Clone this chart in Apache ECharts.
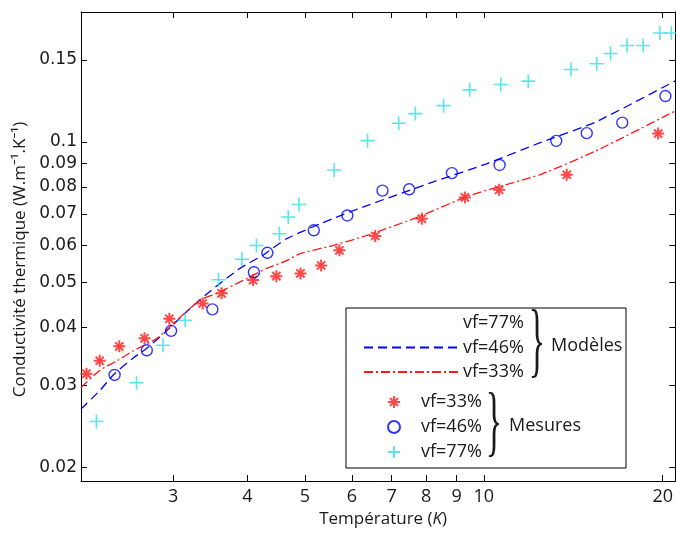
<!DOCTYPE html>
<html>
<head>
<meta charset="utf-8">
<script src="https://cdn.jsdelivr.net/npm/echarts@6/dist/echarts.min.js"></script>
<style>
html,body{margin:0;padding:0;background:#fff;}
#chart{width:676px;height:533px;}
</style>
</head>
<body>
<div id="chart"></div>
<script>
// Tick values
const tempTicks = [3, 4, 5, 6, 7, 8, 9, 10, 20];
const condTicks = [0.02, 0.03, 0.04, 0.05, 0.06, 0.07, 0.08, 0.09, 0.1, 0.15];

// Models [T (K), k (W/m/K)]
const model77 = [];
const model46 = [[2.1,0.0267],[2.264,0.02935],[2.379,0.0316],[2.571,0.03436],[2.713,0.03609],[2.910,0.03903],[3.167,0.04328],[3.460,0.04775],[3.885,0.05347],[4.262,0.05726],[4.658,0.06197],[5.563,0.0684],[6.342,0.0729],[8.309,0.08243],[10.08,0.08962],[12.51,0.0999],[15.40,0.1102],[21,0.1352]];
const model33 = [[2.1,0.0297],[2.264,0.0324],[2.417,0.0339],[2.571,0.0356],[2.820,0.0379],[3.094,0.0422],[3.329,0.0457],[3.554,0.0473],[3.991,0.0509],[4.311,0.0535],[4.658,0.0556],[4.896,0.0575],[5.563,0.0599],[6.342,0.0629],[7.780,0.0691],[9.436,0.0766],[12.51,0.0853],[15.40,0.0955],[21,0.1165]];

// Measurements
const mes33 = [[2.145,0.0318],[2.258,0.0339],[2.436,0.0364],[2.686,0.0379],[2.957,0.0417],[3.364,0.0450],[3.620,0.0473],[4.090,0.0505],[4.476,0.0515],[4.915,0.0522],[5.325,0.0543],[5.715,0.0585],[6.566,0.0628],[7.864,0.0684],[9.293,0.0760],[10.61,0.0789],[13.79,0.0850],[19.65,0.1042]];
const mes46 = [[2.392,0.0316],[2.710,0.0357],[2.977,0.0393],[3.494,0.0437],[4.104,0.0525],[4.323,0.0578],[5.175,0.0646],[5.893,0.0695],[6.753,0.0786],[7.488,0.0791],[8.837,0.0857],[10.63,0.0892],[13.24,0.1005],[14.90,0.1044],[17.10,0.1100],[20.21,0.1254]];
const mes77 = [[2.229,0.0251],[2.604,0.0304],[2.886,0.0366],[3.143,0.0414],[3.578,0.0506],[3.918,0.0560],[4.144,0.0599],[4.528,0.0635],[4.688,0.0690],[4.887,0.0734],[5.600,0.0870],[6.374,0.1006],[7.191,0.1096],[7.670,0.1150],[8.559,0.1196],[9.467,0.1293],[10.68,0.1328],[11.88,0.1350],[14.02,0.1430],[15.49,0.1471],[16.34,0.1548],[17.42,0.1610],[18.54,0.1610],[19.78,0.1713],[20.68,0.1713]];

const RED = '#ff1a1a', BLUE = '#0000ff', CYAN = '#2ee0e0';
const TXT = '#1a1a1a';
const SANS = '"Open Sans", "Noto Sans", sans-serif';

const asterisk = 'path://M5,0L5,10M0,5L10,5M1.6,1.6L8.4,8.4M8.4,1.6L1.6,8.4';
const plus = 'path://M5,0L5,10M0,5L10,5';

const fmt = v => String(+(+v).toPrecision(6));

const chart = echarts.init(document.getElementById('chart'), null, {renderer: 'canvas'});

const baseX = {
  type: 'log', min: 2.1, max: 21, logBase: 10,
  axisLine: {show: true, onZero: false, lineStyle: {color: '#000', width: 1}},
  splitLine: {show: false}, minorTick: {show: false},
  axisTick: {show: true, inside: true, length: 6, lineStyle: {color: '#000'}, customValues: tempTicks},
};
const baseY = {
  type: 'log', min: 0.0187, max: 0.19, logBase: 10,
  axisLine: {show: true, onZero: false, lineStyle: {color: '#000', width: 1}},
  splitLine: {show: false}, minorTick: {show: false},
  axisTick: {show: true, inside: true, length: 6, lineStyle: {color: '#000'}, customValues: condTicks},
};

const option = {
  animation: false,
  backgroundColor: '#fff',
  grid: {left: 81, top: 12, width: 596, height: 472, containLabel: false},
  xAxis: [
    Object.assign({}, baseX, {
      position: 'bottom',
      name: 'Température ({i|K})', nameLocation: 'middle', nameGap: 27,
      nameTextStyle: {color: TXT, fontFamily: SANS, fontSize: 17, padding: [0, 0, 0, 10],
        rich: {i: {fontStyle: 'italic', fontFamily: SANS, fontSize: 17, color: TXT}}},
      axisLabel: {show: true, color: TXT, fontFamily: SANS, fontSize: 18, margin: 7,
        customValues: tempTicks, formatter: fmt}
    }),
    Object.assign({}, baseX, {position: 'top', axisLabel: {show: false}})
  ],
  yAxis: [
    Object.assign({}, baseY, {
      position: 'left',
      name: 'Conductivité thermique (W.m⁻¹.K⁻¹){s| }', nameLocation: 'middle', nameGap: 46,
      nameTextStyle: {color: TXT, fontFamily: SANS, fontSize: 17,
        rich: {s: {width: 26, fontSize: 17, fontFamily: SANS}}},
      axisLabel: {show: true, color: TXT, fontFamily: '"DejaVu Sans", sans-serif', fontSize: 17, margin: 4,
        customValues: condTicks, formatter: fmt}
    }),
    Object.assign({}, baseY, {position: 'right', axisLabel: {show: false}})
  ],
  legend: [
    {
      data: ['Modèle vf=77%', 'Modèle vf=46%', 'Modèle vf=33%'],
      orient: 'vertical', left: 363, top: 313, padding: 0,
      itemWidth: 94, itemHeight: 14, itemGap: 4.5, selectedMode: false,
      itemStyle: {color: 'rgba(0,0,0,0)', borderColor: 'rgba(0,0,0,0)', borderWidth: 0},
      formatter: n => n.replace(/^\S+ /, ''),
      textStyle: {color: TXT, fontFamily: SANS, fontSize: 18, lineHeight: 20}
    },
    {
      data: ['Mesure vf=33%', 'Mesure vf=46%', 'Mesure vf=77%'],
      orient: 'vertical', left: 387, top: 392, padding: 0,
      itemWidth: 44, itemHeight: 12, itemGap: 5, selectedMode: false,
      formatter: n => n.replace(/^\S+ /, ''),
      textStyle: {color: TXT, fontFamily: SANS, fontSize: 18, lineHeight: 20}
    }
  ],
  graphic: [
    {type: 'rect', shape: {x: 346, y: 308, width: 280, height: 160}, style: {fill: 'none', stroke: '#000', lineWidth: 1}, z: 1},
    {type: 'text', x: 537, y: 346, scaleY: 2.4, style: {text: '}', font: '34px "Liberation Serif", serif', fill: TXT, align: 'center', verticalAlign: 'middle'}, z: 5},
    {type: 'text', x: 551, y: 346, style: {text: 'Modèles', font: '18px "Open Sans", sans-serif', fill: TXT, align: 'left', verticalAlign: 'middle'}, z: 5},
    {type: 'text', x: 494, y: 426, scaleY: 2.3, style: {text: '}', font: '34px "Liberation Serif", serif', fill: TXT, align: 'center', verticalAlign: 'middle'}, z: 5},
    {type: 'text', x: 509, y: 426, style: {text: 'Mesures', font: '18px "Open Sans", sans-serif', fill: TXT, align: 'left', verticalAlign: 'middle'}, z: 5}
  ],
  series: [
    {name: 'Modèle vf=77%', type: 'line', data: model77, symbol: 'none',
      lineStyle: {color: 'rgba(0,0,0,0)', width: 0}, itemStyle: {color: 'rgba(0,0,0,0)'}},
    {name: 'Modèle vf=46%', type: 'line', data: model46, symbol: 'none', smooth: 0.2,
      lineStyle: {color: BLUE, width: 1.3, type: [9, 5]}, itemStyle: {color: BLUE}, z: 2},
    {name: 'Modèle vf=33%', type: 'line', data: model33, symbol: 'none', smooth: 0.2,
      lineStyle: {color: RED, width: 1.3, type: [9, 3, 2, 3]}, itemStyle: {color: RED}, z: 2},
    {name: 'Mesure vf=33%', type: 'scatter', data: mes33, symbol: asterisk, symbolSize: 12,
      itemStyle: {color: 'rgba(0,0,0,0)', borderColor: RED, borderWidth: 2}, z: 3},
    {name: 'Mesure vf=46%', type: 'scatter', data: mes46, symbol: 'circle', symbolSize: 11,
      itemStyle: {color: 'rgba(0,0,0,0)', borderColor: BLUE, borderWidth: 1.4}, z: 3},
    {name: 'Mesure vf=77%', type: 'scatter', data: mes77, symbol: plus, symbolSize: 14,
      itemStyle: {color: 'rgba(0,0,0,0)', borderColor: CYAN, borderWidth: 1.6}, z: 3}
  ]
};
chart.setOption(option);
</script>
</body>
</html>
